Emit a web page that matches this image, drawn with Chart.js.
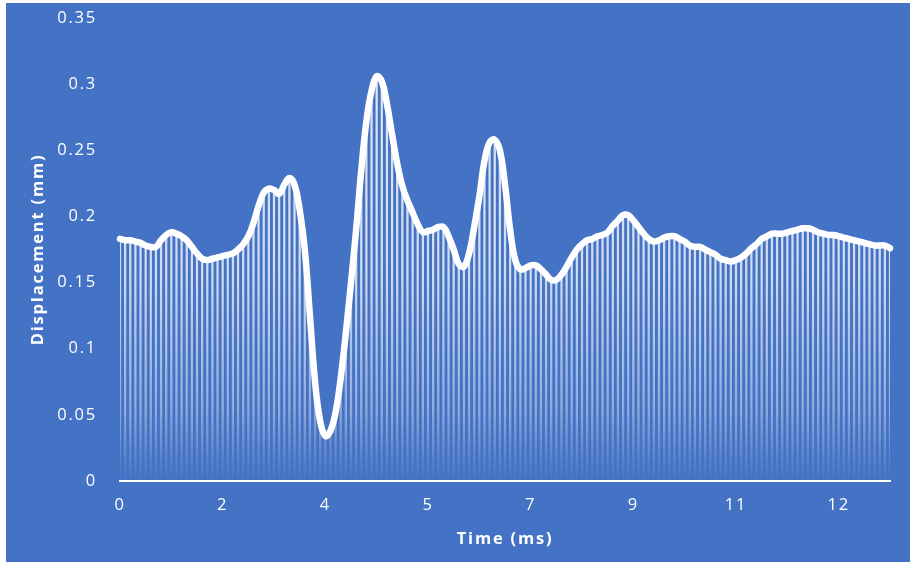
<!DOCTYPE html>
<html>
<head>
<meta charset="utf-8">
<script src="https://cdn.jsdelivr.net/npm/chart.js@4/dist/chart.umd.min.js"></script>
<style>
  html, body { margin: 0; padding: 0; background: #ffffff; }
  #wrap { position: absolute; left: 0; top: 0; width: 910px; height: 565px; }
  canvas { display: block; }
</style>
</head>
<body>
<div id="wrap"><canvas id="chart" width="910" height="565"></canvas></div>
<script>
// Displacement samples (mm), one per acquisition step
const displacement = [
  0.183, 0.182, 0.182, 0.181, 0.180, 0.178, 0.177, 0.177, 0.182, 0.186,
  0.188, 0.187, 0.185, 0.182, 0.177, 0.172, 0.168, 0.167, 0.168, 0.169,
  0.170, 0.171, 0.172, 0.175, 0.179, 0.185, 0.195, 0.208, 0.218, 0.221,
  0.220, 0.217, 0.224, 0.229, 0.224, 0.205, 0.175, 0.125, 0.075, 0.045,
  0.034, 0.038, 0.052, 0.078, 0.112, 0.150, 0.190, 0.235, 0.272, 0.295,
  0.306, 0.302, 0.285, 0.262, 0.240, 0.223, 0.212, 0.203, 0.194, 0.188,
  0.189, 0.190, 0.192, 0.192, 0.185, 0.175, 0.164, 0.162, 0.172, 0.192,
  0.215, 0.242, 0.256, 0.258, 0.250, 0.224, 0.190, 0.167, 0.160, 0.161,
  0.163, 0.163, 0.160, 0.156, 0.152, 0.152, 0.156, 0.162, 0.169, 0.175,
  0.179, 0.182, 0.183, 0.185, 0.186, 0.188, 0.193, 0.197, 0.201, 0.201,
  0.197, 0.192, 0.187, 0.183, 0.181, 0.182, 0.184, 0.185, 0.185, 0.183,
  0.181, 0.178, 0.177, 0.177, 0.175, 0.173, 0.171, 0.168, 0.167, 0.166,
  0.167, 0.169, 0.172, 0.176, 0.179, 0.183, 0.185, 0.187, 0.187, 0.187,
  0.188, 0.189, 0.190, 0.191, 0.191, 0.190, 0.188, 0.187, 0.186, 0.186,
  0.185, 0.184, 0.183, 0.182, 0.181, 0.180, 0.179, 0.178, 0.178, 0.178,
  0.176
];

// Time labels (ms) shown under every 20th sample
const timeTickLabels = ['0', '2', '4', '5', '7', '9', '11', '12'];
const samplesPerTick = 20;

// Sample index categories
const sampleIndex = displacement.map((_, i) => i);

const WHITE = '#ffffff';
const PANEL_BLUE = '#4472C4';
const tickFont = { family: '"Open Sans", sans-serif', size: 16.5 };
const titleFont = { family: '"Open Sans", sans-serif', size: 16.5, weight: 'bold' };

// Blue panel behind the plot and wider text tracking
const panelPlugin = {
  id: 'panel',
  beforeUpdate(chart) { chart.ctx.letterSpacing = '1.8px'; },
  beforeDraw(chart) {
    const ctx = chart.ctx;
    ctx.save();
    ctx.fillStyle = PANEL_BLUE;
    ctx.fillRect(6, 3, chart.width - 6, chart.height - 6);
    ctx.restore();
    ctx.letterSpacing = '1.8px';
  }
};

// Drop lines fade out toward the baseline
function dropLineFill(context) {
  const { ctx, chartArea } = context.chart;
  if (!chartArea) return 'rgba(255,255,255,0.7)';
  const g = ctx.createLinearGradient(0, chartArea.top, 0, chartArea.bottom);
  g.addColorStop(0, 'rgba(255,255,255,0.85)');
  g.addColorStop(0.55, 'rgba(255,255,255,0.75)');
  g.addColorStop(0.85, 'rgba(255,255,255,0.4)');
  g.addColorStop(1, 'rgba(255,255,255,0.0)');
  return g;
}

new Chart(document.getElementById('chart'), {
  type: 'line',
  data: {
    labels: sampleIndex,
    datasets: [
      {
        type: 'line',
        data: displacement,
        borderColor: WHITE,
        borderWidth: 6.5,
        pointRadius: 0,
        tension: 0.4,
        borderCapStyle: 'round',
        borderJoinStyle: 'round',
        clip: false,
        order: 0
      },
      {
        type: 'bar',
        data: displacement,
        backgroundColor: dropLineFill,
        barThickness: 1.6,
        order: 1
      }
    ]
  },
  options: {
    responsive: false,
    animation: false,
    events: [],
    layout: { padding: { left: 0, right: 20, top: 18, bottom: 0 } },
    plugins: {
      legend: { display: false },
      tooltip: { enabled: false }
    },
    scales: {
      x: {
        type: 'category',
        offset: false,
        grid: { display: false, drawTicks: false },
        border: { display: true, color: WHITE, width: 2 },
        ticks: {
          autoSkip: false,
          maxRotation: 0,
          color: WHITE,
          font: tickFont,
          padding: 14,
          callback: (value, index) =>
            index % samplesPerTick === 0 ? timeTickLabels[index / samplesPerTick] : null
        },
        title: {
          display: true,
          text: 'Time (ms)',
          color: WHITE,
          font: titleFont,
          padding: { top: 0, bottom: 16 }
        },
        afterFit(scale) {
          scale.height = 84;
          scale.paddingLeft = 0;
          scale.paddingRight = 0;
        }
      },
      y: {
        min: 0,
        max: 0.35,
        grid: { display: false, drawTicks: false },
        border: { display: false },
        ticks: {
          stepSize: 0.05,
          color: WHITE,
          font: tickFont,
          padding: 23,
          callback: (value) => String(parseFloat(Number(value).toFixed(2)))
        },
        title: {
          display: true,
          text: 'Displacement (mm)',
          color: WHITE,
          font: titleFont,
          padding: { top: 28, bottom: 0 }
        },
        afterFit(scale) {
          scale.width = 120;
          scale.paddingTop = 0;
          scale.paddingBottom = 0;
        }
      }
    }
  },
  plugins: [panelPlugin]
});
</script>
</body>
</html>
